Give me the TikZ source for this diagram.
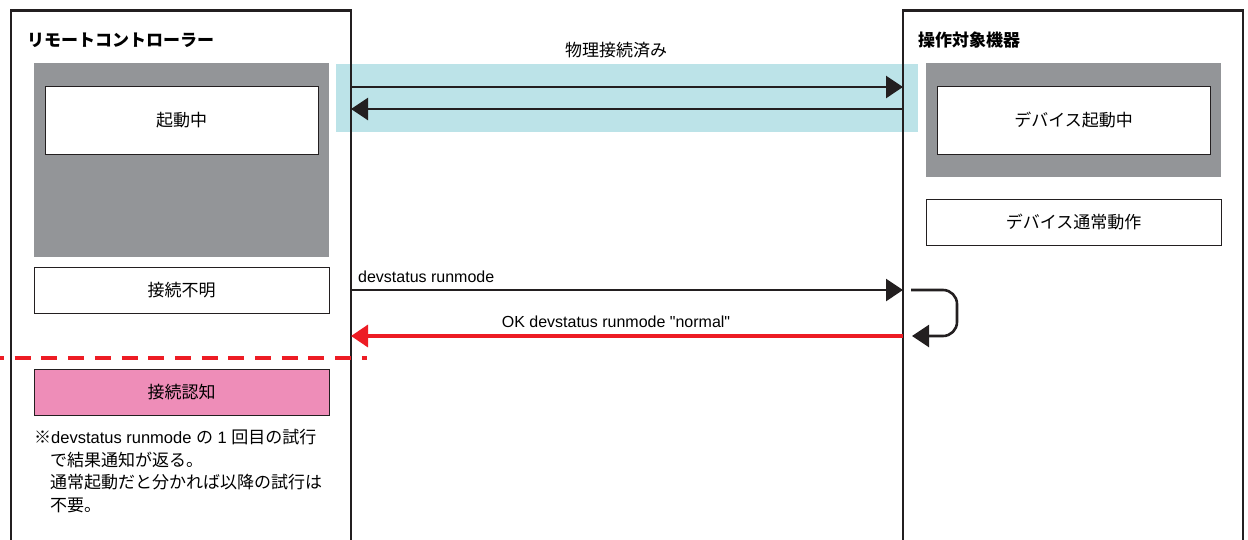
\documentclass[tikz,border=0pt]{standalone}
\usepackage{fontspec}
\setmainfont{Liberation Sans}[Ligatures=TeXOff]
\newfontfamily\cjk{Noto Sans CJK JP}
\usetikzlibrary{arrows.meta}
\definecolor{boxgray}{HTML}{939598}
\definecolor{cyanband}{HTML}{BCE3E8}
\definecolor{pinkbox}{HTML}{EE8DB8}
\definecolor{redline}{HTML}{ED1C24}
\definecolor{linegray}{HTML}{231F20}
\begin{document}
\begin{tikzpicture}[x=1pt,y=-1pt,
  frame/.style={draw=linegray, line width=2.2pt},
  grayarea/.style={fill=boxgray, inner sep=0pt},
  state/.style={draw=linegray, line width=1pt, fill=white, inner sep=0pt,
    font=\cjk\fontsize{17}{20}\selectfont},
  title/.style={anchor=west, inner sep=0pt, font=\cjk\bfseries\fontsize{17}{20}\selectfont},
  lbl/.style={inner sep=0pt, font=\fontsize{16}{19}\selectfont},
  msg/.style={draw=linegray, line width=2.6pt, -{Triangle[length=17pt,width=22pt]}},
  redmsg/.style={draw=redline, line width=3.3pt, -{Triangle[length=17pt,width=22pt]}},
]
\useasboundingbox (0,0) rectangle (1248,539);

% cyan band
\node[fill=cyanband, inner sep=0pt, minimum width=582pt, minimum height=68pt] (band) at (627,97.5) {};

% frames
\draw[frame] (11,560) -- (11,10.5) -- (351,10.5) -- (351,560);
\draw[frame] (903,560) -- (903,10.5) -- (1243,10.5) -- (1243,560);

% titles
\node[title] (ltitle) at (27,40) {リモートコントローラー};
\node[title] (rtitle) at (918,40) {操作対象機器};

% left side
\node[grayarea, minimum width=295pt, minimum height=194pt] (lgray) at (181.5,160) {};
\node[state, minimum width=273pt, minimum height=68pt] (boot) at (181.5,120) {起動中};
\node[state, minimum width=295pt, minimum height=46pt] (unknown) at (181.5,290) {接続不明};
\node[state, fill=pinkbox, minimum width=295pt, minimum height=46pt] (recog) at (181.5,392) {接続認知};

% right side
\node[grayarea, minimum width=295pt, minimum height=114pt] (rgray) at (1073.5,120) {};
\node[state, minimum width=273pt, minimum height=68pt] (dboot) at (1073.5,120) {デバイス起動中};
\node[state, minimum width=295pt, minimum height=46pt] (dnormal) at (1073.5,222) {デバイス通常動作};

% note
\node[anchor=north west, inner sep=0pt, align=left,
  font=\fontsize{16.5}{22.5}\selectfont] (note) at (34,429)
  {{\cjk\fontsize{17}{22.5}\selectfont ※}devstatus runmode {\cjk\fontsize{17}{22.5}\selectfont の} 1 {\cjk\fontsize{17}{22.5}\selectfont 回目の試行}\\
   \hspace*{16pt}{\cjk\fontsize{17}{22.5}\selectfont で結果通知が返る。}\\
   \hspace*{16pt}{\cjk\fontsize{17}{22.5}\selectfont 通常起動だと分かれば以降の試行は}\\
   \hspace*{16pt}{\cjk\fontsize{17}{22.5}\selectfont 不要。}};

% messages
\coordinate (p1l) at (351,87);  \coordinate (p1r) at (903,87);
\coordinate (p2l) at (351,109); \coordinate (p2r) at (903,109);
\coordinate (q1l) at (351,290); \coordinate (q1r) at (903,290);
\coordinate (q2l) at (351,336); \coordinate (q2r) at (903,336);
\coordinate (lp1) at (911,290); \coordinate (lp2) at (957,290);
\coordinate (lp3) at (957,336); \coordinate (lp4) at (912,336);

\node[lbl, font=\cjk\fontsize{17}{20}\selectfont] (phys) at (616,50) {物理接続済み};
\draw[msg] (p1l) -- (p1r);
\draw[msg] (p2r) -- (p2l);

\node[lbl, anchor=west] (req) at (358,277) {devstatus runmode};
\draw[msg] (q1l) -- (q1r);
\draw[msg, rounded corners=14pt] (lp1) -- (lp2) -- (lp3) -- (lp4);
\node[lbl] (resp) at (616,322) {OK devstatus runmode "normal"};
\draw[redmsg] (q2r) -- (q2l);

% dashed red separator
\coordinate (d1) at (0,358); \coordinate (d2) at (367,358);
\draw[redline, line width=4pt, dash pattern=on 16pt off 10.7pt, dash phase=12pt] (d1) -- (d2);
\end{tikzpicture}
\end{document}
